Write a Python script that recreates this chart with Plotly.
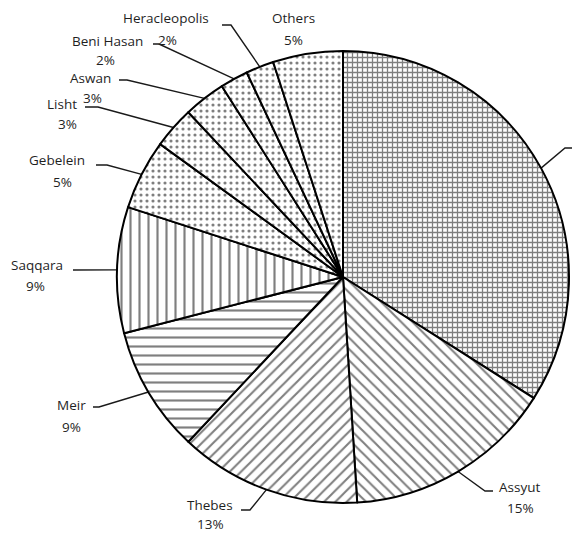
import math
import plotly.graph_objects as go

# Tomb provenance shares (percent), clockwise from 12 o'clock
sites = ["Unknown", "Assyut", "Thebes", "Meir", "Saqqara", "Gebelein",
         "Lisht", "Aswan", "Beni Hasan", "Heracleopolis", "Others"]
shares = [34, 15, 13, 9, 9, 5, 3, 3, 2, 2, 5]
fills = ["+", "\\", "/", "-", "|", ".", ".", ".", ".", ".", "."]

W, H = 572, 535
CX, CY, R = 343, 277, 226  # pie centre / radius in pixels

# label layout: name centre, percent centre, start of leader, elbow of leader
label_layout = {
    "Heracleopolis": ((166, 18), (167, 40), (222, 25), (231, 25)),
    "Beni Hasan": ((107, 41), (105, 60), (153, 44), (159, 44)),
    "Aswan": ((90, 78), (92, 98), (119, 80), (127, 80)),
    "Lisht": ((62, 104), (67, 124), (85, 107), (98, 107)),
    "Gebelein": ((57, 160), (62, 182), (96, 165), (107, 165)),
    "Saqqara": ((37, 265), (35, 286), (73, 270), (100, 270)),
    "Meir": ((71, 405), (71, 427), (93, 407), (99, 407)),
    "Thebes": ((210, 505), (210, 524), (241, 510), (250, 510)),
    "Assyut": ((519, 487), (520, 508), (493, 491), (485, 491)),
    "Others": ((293, 18), (293, 40), None, None),
    "Unknown": (None, None, (590, 148), (565, 148)),
}

fig = go.Figure()

fig.add_trace(go.Pie(
    labels=sites,
    values=shares,
    sort=False,
    direction="clockwise",
    rotation=0,
    textinfo="none",
    hoverinfo="label+percent",
    showlegend=False,
    domain=dict(x=[(CX - R) / W, (CX + R) / W],
                y=[(H - CY - R) / H, (H - CY + R) / H]),
    marker=dict(
        colors=["white"] * len(sites),
        line=dict(color="black", width=2),
        pattern=dict(
            shape=fills,
            fgcolor="black",
            bgcolor="white",
            fillmode="overlay",
            size=[5, 8, 8, 9, 9, 6, 6, 6, 6, 6, 6],
            solidity=[0.45, 0.26, 0.26, 0.24, 0.24, 0.22, 0.22, 0.22, 0.22, 0.22, 0.22],
        ),
    ),
))

# leader lines and labels drawn on a pixel-scaled overlay axis
total = sum(shares)
cum = 0
font = dict(family="Open Sans", size=13.5, color="#1f1f1f")
for site, v in zip(sites, shares):
    mid = (cum + v / 2) / total * 2 * math.pi
    cum += v
    ax = CX + R * math.sin(mid)
    ay = CY - R * math.cos(mid)
    name_pos, pct_pos, start, elbow = label_layout[site]
    if start is not None:
        fig.add_trace(go.Scatter(
            x=[start[0], elbow[0], ax], y=[start[1], elbow[1], ay],
            mode="lines", line=dict(color="#1a1a1a", width=1.4),
            hoverinfo="skip", showlegend=False,
        ))
    if name_pos is not None:
        fig.add_annotation(x=name_pos[0], y=name_pos[1], text=site,
                           showarrow=False, font=font, xanchor="center", yanchor="middle")
        fig.add_annotation(x=pct_pos[0], y=pct_pos[1], text=f"{v}%",
                           showarrow=False, font=font, xanchor="center", yanchor="middle")

fig.update_layout(
    width=W, height=H,
    margin=dict(l=0, r=0, t=0, b=0),
    paper_bgcolor="white",
    plot_bgcolor="rgba(0,0,0,0)",
    xaxis=dict(range=[0, W], visible=False, fixedrange=True),
    yaxis=dict(range=[H, 0], visible=False, fixedrange=True),
)

fig.write_html("out.html")
